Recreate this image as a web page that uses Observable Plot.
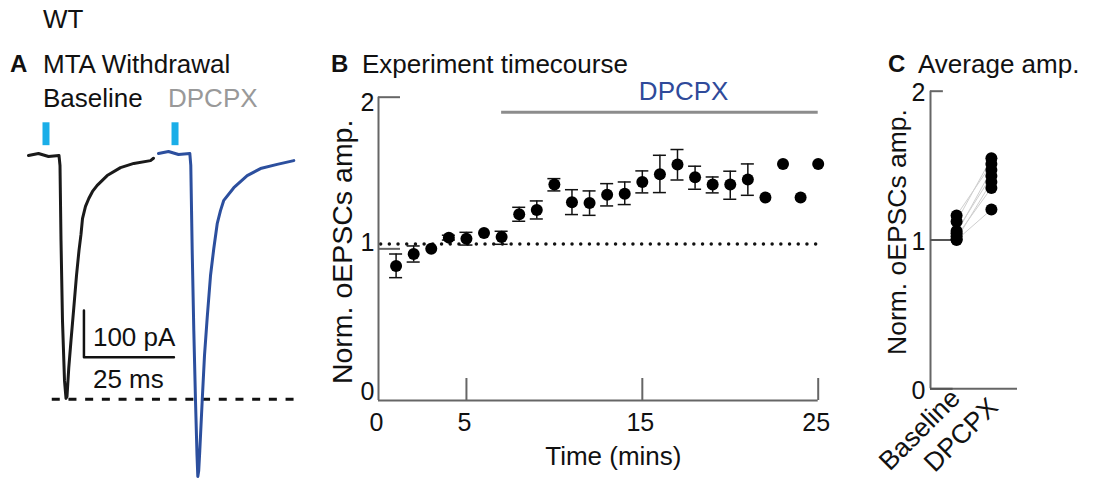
<!DOCTYPE html>
<html><head><meta charset="utf-8">
<script src="https://cdn.jsdelivr.net/npm/d3@7"></script>
<script src="https://cdn.jsdelivr.net/npm/@observablehq/plot@0.6"></script>
<style>
html,body{margin:0;padding:0;background:#fff;}
#fig{position:relative;width:1094px;height:480px;overflow:hidden;font-family:"Liberation Sans",Arial,sans-serif;}
#fig svg{position:absolute;overflow:visible;max-width:none;}
.t{position:absolute;white-space:nowrap;line-height:1;font-size:26px;color:#111;font-family:"Liberation Sans",Arial,sans-serif;}
.b{font-weight:bold;font-size:24px;}
</style></head><body><div id="fig"></div>
<script>
// ---------- Panel A: example traces (time in ms, current in pA) ----------
const blackT = [0,2.78,5.56,8.47,8.75,9.03,9.44,10.0,10.42,10.69,11.19,11.81,12.58,13.33,14.03,14.58,15.0,15.83,16.75,17.78,19.08,21.86,25.56,29.25,33.89,34.72];
const blackI = [0,4.3,-2.1,0,-21.4,-182,-353,-482,-520,-516,-454,-396,-326,-257,-203,-169,-135,-109,-92,-77,-64,-43,-26,-17,-11,-6];
const blueT = [36.11,38.89,41.67,44.81,45.08,45.47,45.92,46.39,46.81,47.03,47.28,47.58,48.25,48.89,49.64,50.56,51.47,52.42,53.33,54.25,57.03,60.75,64.44,69.08,73.69];
const blueI = [4.3,8.6,2.1,4.3,-21.4,-203,-375,-525,-642,-687,-675,-632,-525,-428,-347,-257,-199,-146,-118,-96,-69,-43,-28,-19,-11];
const stimTimes = [4.86, 40.7];
const baselinePeak = -522;           // dashed reference at baseline peak
const scaleBarPA = 100, scaleBarMs = 25;
const scaleBarOrigin = [15.4, -432];

// ---------- Panel B: time course ----------
const timeMin = [1,2,3,4,5,6,7,8,9,10,11,12,13,14,15,16,17,18,19,20,21,22,23,24,25];
const meanAmp = [0.887,0.966,1.001,1.074,1.067,1.105,1.078,1.228,1.256,1.424,1.307,1.302,1.357,1.364,1.441,1.492,1.556,1.472,1.424,1.424,1.457,1.338,1.560,1.338,1.560];
const errHi = [0.966,1.019,null,1.090,1.109,null,1.116,1.274,1.316,1.463,1.390,1.382,1.430,1.441,1.514,1.617,1.655,1.545,1.474,1.512,1.560,null,null,null,null];
const errLo = [0.810,0.913,null,1.058,1.025,null,1.030,1.182,1.197,1.382,1.226,1.221,1.283,1.292,1.369,1.371,1.454,1.393,1.369,1.327,1.353,null,null,null,null];
const xTicksB = [0,5,15,25];
const drugStart = 7, drugEnd = 25, drugBarY = 1.9, drugLabelX = 17.35;
const refLineY = 1.032;

// ---------- Panel C: average amplitude ----------
const cCats = ["Baseline","DPCPX"];
const baseAmp = [1.165,1.125,1.06,1.045,1.025,1.005,1.0];
const dpcpxAmp = [1.51,1.55,1.43,1.47,1.35,1.39,1.205];

const FONT = "Liberation Sans, Arial, sans-serif";
const fig = document.getElementById("fig");
function place(svg, left, top){ svg.style.left = left+"px"; svg.style.top = top+"px"; fig.appendChild(svg); }

// ===== Panel A =====
const blackData = blackT.map((t,i)=>({t, i: blackI[i]}));
const blueData = blueT.map((t,i)=>({t, i: blueI[i]}));
const [sb0, sbI0] = scaleBarOrigin;
const scaleBar = [[sb0, sbI0 + scaleBarPA],[sb0, sbI0],[sb0 + scaleBarMs, sbI0]];
const plotA = Plot.plot({
  width:310, height:382, marginLeft:28, marginRight:4.8, marginTop:3.6, marginBottom:0,
  x:{domain:[0,77], axis:null}, y:{domain:[-700,110], axis:null},
  style:{background:"transparent", fontFamily:FONT, overflow:"visible"},
  marks:[
    Plot.ruleY([baselinePeak], {x1:6.6, x2:76, stroke:"#111", strokeWidth:3, strokeDasharray:"8,8.7"}),
    Plot.ruleX(stimTimes, {y1:21, y2:70, stroke:"#1aaee8", strokeWidth:7}),
    Plot.line(blackData, {x:"t", y:"i", stroke:"#1a1a1a", strokeWidth:3}),
    Plot.line(blueData, {x:"t", y:"i", stroke:"#2c4f9e", strokeWidth:3}),
    Plot.line(scaleBar, {x:d=>d[0], y:d=>d[1], stroke:"#111", strokeWidth:2.5}),
    Plot.text([`${scaleBarPA} pA`], {x:sb0, y:sbI0 + scaleBarPA/2, dx:9, dy:4, textAnchor:"start", fontSize:26, fill:"#111"}),
    Plot.text([`${scaleBarMs} ms`], {x:sb0, y:sbI0, dx:9, dy:22, textAnchor:"start", fontSize:26, fill:"#111"})
  ]
});
place(plotA, 0, 100);

// ===== Panel B =====
const bData = timeMin.map((t,i)=>({t, m: meanAmp[i], hi: errHi[i], lo: errLo[i]}));
const eb = bData.filter(d=>d.hi != null);
const axisC = "#666";
const plotB = Plot.plot({
  width:560, height:440, marginLeft:78, marginRight:42.3, marginTop:56.7, marginBottom:80,
  x:{domain:[0,25], axis:null}, y:{domain:[0,2], axis:null},
  style:{background:"transparent", fontFamily:FONT, overflow:"visible"},
  marks:[
    Plot.ruleY([refLineY], {x1:0.15, x2:25, stroke:"#111", strokeWidth:3.5, strokeDasharray:"0,8.7", strokeLinecap:"round"}),
    Plot.ruleX([0], {y1:0, y2:2, stroke:axisC, strokeWidth:2}),
    Plot.ruleY([0], {x1:0, x2:25, stroke:axisC, strokeWidth:2}),
    Plot.ruleX(xTicksB.slice(1), {y1:0, y2:0.145, stroke:axisC, strokeWidth:2}),
    Plot.ruleY([1,2], {x1:0, x2:1.25, stroke:axisC, strokeWidth:2}),
    Plot.text(xTicksB, {x:d=>d, y:0, dy:22, dx:-2, text:d=>String(d), fontSize:25, fill:"#111"}),
    Plot.text([2], {x:0, y:d=>d, dx:-4, dy:6, textAnchor:"end", text:d=>String(d), fontSize:25, fill:"#111"}),
    Plot.text([1], {x:0, y:d=>d, dx:-4, dy:-6, textAnchor:"end", text:d=>String(d), fontSize:25, fill:"#111"}),
    Plot.text([0], {x:0, y:d=>d, dx:-4, dy:-9, textAnchor:"end", text:d=>String(d), fontSize:25, fill:"#111"}),
    Plot.text(["Norm. oEPSCs amp."], {frameAnchor:"left", textAnchor:"middle", lineAnchor:"middle", rotate:-90, dx:-36, dy:3, fontSize:28.5, fill:"#111"}),
    Plot.text(["Time (mins)"], {frameAnchor:"bottom", textAnchor:"middle", lineAnchor:"middle", dx:15, dy:56, fontSize:26, fill:"#111"}),
    Plot.ruleY([drugBarY], {x1:drugStart, x2:drugEnd, stroke:"#8c8c8c", strokeWidth:3}),
    Plot.text(["DPCPX"], {x:drugLabelX, y:drugBarY, dy:-21, fontSize:26, fill:"#2f4a9a"}),
    Plot.ruleX(eb, {x:"t", y1:"lo", y2:"hi", stroke:"#111", strokeWidth:1.5}),
    Plot.ruleY(eb, {y:"hi", x1:d=>d.t-0.37, x2:d=>d.t+0.37, stroke:"#111", strokeWidth:1.5}),
    Plot.ruleY(eb, {y:"lo", x1:d=>d.t-0.37, x2:d=>d.t+0.37, stroke:"#111", strokeWidth:1.5}),
    Plot.dot(bData, {x:"t", y:"m", r:6, fill:"#000", stroke:"none"})
  ]
});
place(plotB, 300, 40);

// ===== Panel C =====
const pairs = baseAmp.map((b,i)=>({b, d: dpcpxAmp[i]}));
const cPts = [...baseAmp.map(v=>({c:1, v})), ...dpcpxAmp.map(v=>({c:2, v}))];
const plotC = Plot.plot({
  width:234, height:430, marginLeft:70, marginRight:77, marginTop:40.7, marginBottom:91.7,
  x:{domain:[0.25,2.75], axis:null}, y:{domain:[0,2], axis:null},
  style:{background:"transparent", fontFamily:FONT, overflow:"visible"},
  marks:[
    Plot.ruleX([0.25], {y1:0, y2:2, stroke:axisC, strokeWidth:2}),
    Plot.ruleY([0], {x1:0.25, x2:2.75, stroke:axisC, strokeWidth:2}),
    Plot.ruleY([2], {x1:0.25, x2:0.62, stroke:axisC, strokeWidth:2}),
    Plot.ruleY([1,0], {x1:0.25, x2:0.9, stroke:"#555", strokeWidth:2}),
    Plot.text([2,1,0], {x:0.25, y:d=>d, dx:-5, dy:2, textAnchor:"end", text:d=>String(d), fontSize:25, fill:"#111"}),
    Plot.text(["Norm. oEPSCs amp."], {frameAnchor:"left", textAnchor:"middle", lineAnchor:"middle", rotate:-90, dx:-33, dy:-8, fontSize:26.5, fill:"#111"}),
    Plot.link(pairs, {x1:1, y1:"b", x2:2, y2:"d", stroke:"#cfcfcf", strokeWidth:1}),
    Plot.dot(cPts, {x:"c", y:"v", r:6, fill:"#000", stroke:"none"}),
    Plot.text([cCats[0]], {x:1, y:0, dx:-1, dy:5, rotate:-45, textAnchor:"end", fontSize:26.5, fill:"#111"}),
    Plot.text([cCats[1]], {x:2, y:0, dx:2, dy:14, rotate:-45, textAnchor:"end", fontSize:26.5, fill:"#111"})
  ]
});
place(plotC, 860, 50);

// ===== Titles (HTML text) =====
function label(txt, left, top, cls, color){
  const d = document.createElement("div");
  d.className = "t" + (cls ? " "+cls : "");
  d.textContent = txt; d.style.left = left+"px"; d.style.top = top+"px";
  if (color) d.style.color = color;
  fig.appendChild(d);
}
label("WT", 43, 6);
label("A", 10, 52, "b");
label("MTA Withdrawal", 43, 51);
label("Baseline", 43, 85);
label("DPCPX", 168, 85, null, "#999");
label("B", 331, 52, "b");
label("Experiment timecourse", 362, 51);
label("C", 888, 52, "b");
label("Average amp.", 918, 51);
</script></body></html>
